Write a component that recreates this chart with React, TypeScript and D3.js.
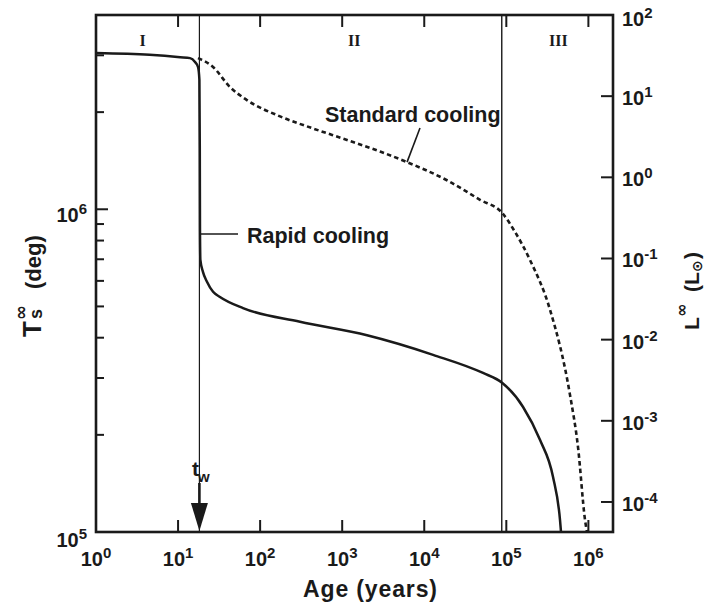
import React from "react";
import * as d3 from "d3";

// ---- data ----
const rapidAge = [1, 4.5, 10.6, 14, 16.1, 17.5, 18.2, 18.4, 18.5, 18.7, 20.1, 22.5, 26.7, 32.4, 61.8, 306, 2006, 12800, 52000, 88700, 160000, 257000, 371000, 451000, 464000];
const rapidT = [3.05e6, 3.01e6, 2.96e6, 2.94e6, 2.86e6, 2.76e6, 2.52e6, 1.53e6, 8.63e5, 6.97e5, 6.4e5, 5.96e5, 5.55e5, 5.35e5, 4.94e5, 4.48e5, 4.07e5, 3.54e5, 3.11e5, 2.9e5, 2.44e5, 1.93e5, 1.48e5, 1.09e5, 1.0e5];

const stdAge = [17.5, 26.7, 43, 69, 175, 441, 1145, 2890, 6170, 18900, 47800, 88700, 128000, 194000, 341000, 597000, 748000, 910000, 960000];
const stdT = [2.94e6, 2.76e6, 2.39e6, 2.18e6, 1.94e6, 1.78e6, 1.64e6, 1.51e6, 1.4e6, 1.23e6, 1.07e6, 9.75e5, 8.5e5, 6.97e5, 4.88e5, 2.66e5, 1.83e5, 1.09e5, 1.0e5];

const xTickExps = [0, 1, 2, 3, 4, 5, 6];
const leftTickExps = [5, 6];
const leftMinor = [2e5, 3e5, 4e5, 5e5, 6e5, 7e5, 8e5, 9e5, 2e6, 3e6];
const rightTickExps = [2, 1, 0, -1, -2, -3, -4];

const tW = 18.2; // t_w
const phaseBoundary = 8.8e4; // II / III
const phaseLabels = ["I", "II", "III"];
const phaseLabelAges = [3.7, 1.4e3, 4.3e5];

const xDomain = [1, Math.pow(10, 6.3)];
const yDomain = [1e5, Math.pow(10, 6.602)];
const yRDomain = [Math.pow(10, -4.37), 100];

const SANS = "'Liberation Sans', Arial, Helvetica, sans-serif";
const SERIF = "'Liberation Serif', 'Times New Roman', serif";
const INK = "#1a1a1a";

export default function App() {
  const L = 96, R = 613, T = 15, B = 532;
  const x = d3.scaleLog().domain(xDomain).range([L, R]);
  const y = d3.scaleLog().domain(yDomain).range([B, T]);
  const yR = d3.scaleLog().domain(yRDomain).range([B, T]);

  const line = d3
    .line<[number, number]>()
    .x((d) => x(d[0]))
    .y((d) => y(d[1]))
    .curve(d3.curveMonotoneX);

  const rapid = rapidAge.map((a, i) => [a, rapidT[i]] as [number, number]);
  const std = stdAge.map((a, i) => [a, stdT[i]] as [number, number]);

  const xw = x(tW);
  const xb = x(phaseBoundary);

  const pow = (e: number, fs: number, sfs: number) => (
    <>
      <tspan fontSize={fs}>10</tspan>
      <tspan fontSize={sfs} dy={-8}>{e < 0 ? "-" + Math.abs(e) : String(e)}</tspan>
    </>
  );

  return (
    <svg width={705} height={610} style={{ display: "block", position: "absolute", left: 0, top: 0, background: "#fff" }}>
      <rect x={0} y={0} width={705} height={610} fill="#fff" />

      {/* vertical phase lines */}
      <line x1={xw} x2={xw} y1={T} y2={B} stroke={INK} strokeWidth={1.2} />
      <line x1={xb} x2={xb} y1={T} y2={B} stroke={INK} strokeWidth={1.4} />

      {/* curves */}
      <path d={line(std) || ""} fill="none" stroke={INK} strokeWidth={2.6} strokeDasharray="4.5,3.2" />
      <path d={line(rapid) || ""} fill="none" stroke={INK} strokeWidth={2.5} />

      {/* frame */}
      <rect x={L} y={T} width={R - L} height={B - T} fill="none" stroke={INK} strokeWidth={2.6} />

      {/* bottom & top ticks */}
      {xTickExps.filter((e) => e > 0).map((e) => (
        <g key={"xt" + e}>
          <line x1={x(Math.pow(10, e))} x2={x(Math.pow(10, e))} y1={B} y2={B - 12} stroke={INK} strokeWidth={2} />
          <line x1={x(Math.pow(10, e))} x2={x(Math.pow(10, e))} y1={T} y2={T + 12} stroke={INK} strokeWidth={2} />
        </g>
      ))}
      {xTickExps.map((e) => (
        <text key={"xl" + e} x={x(Math.pow(10, e))} y={566} textAnchor="middle" fontFamily={SANS} fontWeight="bold" fill={INK}>
          {pow(e, 20, 15)}
        </text>
      ))}

      {/* left ticks */}
      {leftTickExps.filter((e) => e > 5).map((e) => (
        <line key={"lt" + e} x1={L} x2={L + 12} y1={y(Math.pow(10, e))} y2={y(Math.pow(10, e))} stroke={INK} strokeWidth={2} />
      ))}
      {leftMinor.map((v) => (
        <line key={"lm" + v} x1={L} x2={L + 8} y1={y(v)} y2={y(v)} stroke={INK} strokeWidth={2} />
      ))}
      {leftTickExps.map((e) => (
        <text key={"ll" + e} x={87} y={y(Math.pow(10, e)) + (e === 5 ? 15 : 13)} textAnchor="end" fontFamily={SANS} fontWeight="bold" fill={INK}>
          {pow(e, 20, 15)}
        </text>
      ))}

      {/* right ticks */}
      {rightTickExps.filter((e) => e < 2).map((e) => (
        <line key={"rt" + e} x1={R} x2={R - 12} y1={yR(Math.pow(10, e))} y2={yR(Math.pow(10, e))} stroke={INK} strokeWidth={2} />
      ))}
      {rightTickExps.map((e) => (
        <text key={"rl" + e} x={622} y={yR(Math.pow(10, e)) + (e === 2 ? 11 : 9)} textAnchor="start" fontFamily={SANS} fontWeight="bold" fill={INK}>
          {pow(e, 20, 15)}
        </text>
      ))}

      {/* phase labels */}
      {phaseLabels.map((s, i) => (
        <text key={s} x={x(phaseLabelAges[i])} y={46} textAnchor="middle" fontFamily={SERIF} fontWeight="bold" fontSize={16} fill={INK}>
          {s}
        </text>
      ))}

      {/* annotations */}
      <line x1={xw} x2={238} y1={234} y2={234} stroke={INK} strokeWidth={1.6} />
      <text x={247} y={243} fontFamily={SANS} fontWeight="bold" fontSize={21.5} fill={INK}>Rapid cooling</text>
      <line x1={x(6170)} x2={420} y1={y(1.4e6)} y2={128} stroke={INK} strokeWidth={1.6} />
      <text x={325} y={122} fontFamily={SANS} fontWeight="bold" fontSize={21.5} fill={INK}>Standard cooling</text>

      {/* t_w arrow */}
      <text x={192} y={476} fontFamily={SANS} fontWeight="bold" fontSize={21} fill={INK}>t</text>
      <text x={198} y={482} fontFamily={SANS} fontWeight="bold" fontSize={15} fill={INK}>w</text>
      <line x1={xw} x2={xw} y1={483} y2={506} stroke={INK} strokeWidth={2.6} />
      <path d={`M${xw - 8.5},503 L${xw + 8.5},503 L${xw},531 Z`} fill={INK} />

      {/* axis titles */}
      <text x={370} y={597} textAnchor="middle" fontFamily={SANS} fontWeight="bold" fontSize={23} fill={INK} textLength={134} lengthAdjust="spacing">Age (years)</text>

      <g transform="translate(41,337) rotate(-90)" fontFamily={SANS} fontWeight="bold" fill={INK}>
        <text x={0} y={0} fontSize={26}>T</text>
        <text x={17} y={-14} fontSize={18} fontFamily="'DejaVu Sans', sans-serif">∞</text>
        <text x={18} y={1} fontSize={18}>s</text>
        <text x={48} y={0} fontSize={22}>(deg)</text>
      </g>

      <g transform="translate(699,330) rotate(-90)" fontFamily={SANS} fontWeight="bold" fill={INK}>
        <text x={0} y={0} fontSize={21}>L</text>
        <text x={13} y={-12} fontSize={16} fontFamily="'DejaVu Sans', sans-serif">∞</text>
        <text x={38} y={0} fontSize={21}>(L</text>
        <text x={58} y={3} fontSize={14} fontFamily="'DejaVu Sans', sans-serif">⊙</text>
        <text x={71} y={0} fontSize={21}>)</text>
      </g>
    </svg>
  );
}
